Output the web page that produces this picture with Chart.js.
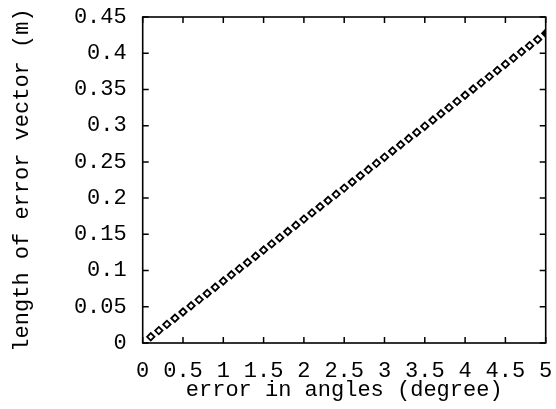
<!DOCTYPE html>
<html>
<head>
<meta charset="utf-8">
<script src="https://cdn.jsdelivr.net/npm/chart.js@4/dist/chart.umd.min.js"></script>
<style>
html,body{margin:0;padding:0;background:#fff;}
#wrap{width:556px;height:409px;position:relative;}
</style>
</head>
<body>
<div id="wrap"><canvas id="c" width="556" height="409"></canvas></div>
<script>
const angles = [0.1,0.2,0.3,0.4,0.5,0.6,0.7,0.8,0.9,1.0,1.1,1.2,1.3,1.4,1.5,1.6,1.7,1.8,1.9,2.0,2.1,2.2,2.3,2.4,2.5,2.6,2.7,2.8,2.9,3.0,3.1,3.2,3.3,3.4,3.5,3.6,3.7,3.8,3.9,4.0,4.1,4.2,4.3,4.4,4.5,4.6,4.7,4.8,4.9,5.0];
const errorLengths = [0.0086,0.0171,0.0257,0.0342,0.0428,0.0513,0.0599,0.0684,0.0770,0.0855,0.0941,0.1026,0.1112,0.1197,0.1283,0.1368,0.1454,0.1539,0.1625,0.1710,0.1796,0.1881,0.1967,0.2052,0.2138,0.2223,0.2309,0.2394,0.2480,0.2565,0.2651,0.2736,0.2822,0.2907,0.2993,0.3078,0.3164,0.3249,0.3335,0.3420,0.3506,0.3591,0.3677,0.3762,0.3848,0.3933,0.4019,0.4104,0.4190,0.4275];
const xTickValues = [0,0.5,1,1.5,2,2.5,3,3.5,4,4.5,5];
const yTickValues = [0,0.05,0.1,0.15,0.2,0.25,0.3,0.35,0.4,0.45];
const xTitle = 'error in angles (degree)';
const yTitle = 'length of error vector (m)';

const FONT = "'Liberation Mono', 'Courier New', monospace";

const framePlugin = {
  id: 'frame',
  afterDatasetsDraw(chart) {
    const {ctx, chartArea: a, scales} = chart;
    ctx.save();
    ctx.strokeStyle = '#000';
    ctx.lineWidth = 1.6;
    ctx.strokeRect(a.left, a.top, a.right - a.left, a.bottom - a.top);
    const L = 6;
    ctx.lineWidth = 1.5;
    ctx.beginPath();
    scales.x.ticks.forEach((t, i) => {
      const px = scales.x.getPixelForTick(i);
      ctx.moveTo(px, a.bottom); ctx.lineTo(px, a.bottom - L);
      ctx.moveTo(px, a.top); ctx.lineTo(px, a.top + L);
    });
    scales.y.ticks.forEach((t, i) => {
      const py = scales.y.getPixelForTick(i);
      ctx.moveTo(a.left, py); ctx.lineTo(a.left + L, py);
      ctx.moveTo(a.right, py); ctx.lineTo(a.right - L, py);
    });
    ctx.stroke();
    ctx.restore();
  }
};

new Chart(document.getElementById('c'), {
  type: 'scatter',
  data: {
    datasets: [{
      data: angles.map((x, i) => ({x: x, y: errorLengths[i]})),
      pointStyle: 'rectRot',
      pointRadius: 3.7,
      borderWidth: 1.8,
      borderColor: '#000',
      backgroundColor: ctx => ctx.dataIndex === angles.length - 1 ? '#000' : '#fff',
      showLine: false
    }]
  },
  options: {
    responsive: false,
    animation: false,
    layout: {padding: {left: 0, right: 10.3, top: 17, bottom: 0}},
    plugins: {legend: {display: false}, tooltip: {enabled: false}},
    scales: {
      x: {
        type: 'linear', min: 0, max: 5,
        afterBuildTicks: s => { s.ticks = xTickValues.map(v => ({value: v})); },
        afterFit: s => { s.height = 66; s.paddingLeft = 0; s.paddingRight = 0; },
        grid: {display: false, drawTicks: false},
        border: {display: false},
        ticks: {color: '#000', font: {family: FONT, size: 22}, padding: 15, maxRotation: 0, autoSkip: false,
                callback: v => String(v)},
        title: {display: true, text: xTitle, color: '#000', font: {family: FONT, size: 22}, padding: {top: 0, bottom: 6}}
      },
      y: {
        type: 'linear', min: 0, max: 0.45,
        afterBuildTicks: s => { s.ticks = yTickValues.map(v => ({value: v})); },
        afterFit: s => { s.width = 142.7; s.paddingTop = 0; s.paddingBottom = 0; },
        grid: {display: false, drawTicks: false},
        border: {display: false},
        ticks: {color: '#000', font: {family: FONT, size: 22}, padding: 16, autoSkip: false,
                callback: v => String(+v.toFixed(2))},
        title: {display: true, text: yTitle, color: '#000', font: {family: FONT, size: 22}, padding: {top: 9, bottom: 0}}
      }
    }
  },
  plugins: [framePlugin]
});
</script>
</body>
</html>
